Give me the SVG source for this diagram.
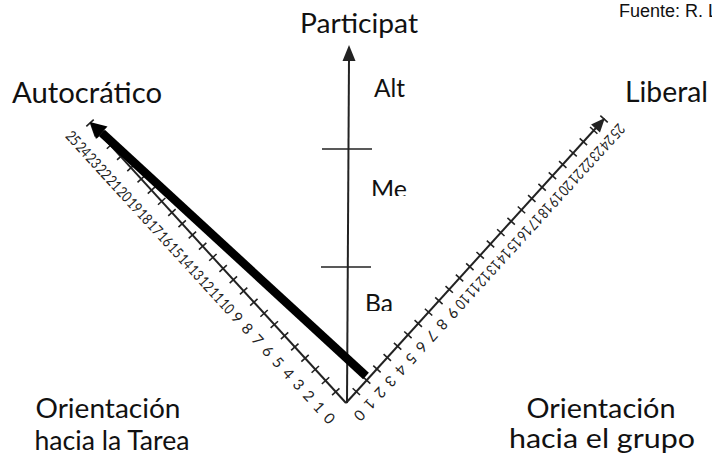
<svg xmlns="http://www.w3.org/2000/svg" width="712" height="455" viewBox="0 0 712 455">
<style>
.lbl{font-family:Lato,"Open Sans","Liberation Sans",sans-serif;fill:#111}
.num{font-family:Lato,"Open Sans","Liberation Sans",sans-serif;font-size:15px;fill:#222;text-anchor:middle;dominant-baseline:central}
.ax{stroke:#222;stroke-width:2;fill:none}
.tk{stroke:#222;stroke-width:1.6;fill:none}
.ah{fill:#222}
</style>
<defs>
<clipPath id="clipMe"><rect x="360" y="170" width="60" height="26"/></clipPath>
<clipPath id="clipBa"><rect x="355" y="285" width="60" height="26"/></clipPath>
</defs>
<rect width="712" height="455" fill="#fff"/>

<g id="source">
<text x="619" y="17" font-family="Liberation Sans, Arial, sans-serif" font-size="18" fill="#111">Fuente: R. L</text>
</g>

<g id="axis-vertical">
<line class="ax" x1="347" y1="403" x2="349" y2="58"/>
<polygon class="ah" points="349,45 355.5,61 342.5,61"/>
<line class="tk" x1="322" y1="149" x2="372" y2="149"/>
<line class="tk" x1="321" y1="267" x2="371" y2="267"/>
</g>

<g id="axis-left">
<g transform="translate(346,403) rotate(47.57)">
<line class="ax" x1="0" y1="0" x2="-372" y2="0"/>
<path class="tk" d="M-15.18,-5V5M-30.35,-5V5M-45.53,-5V5M-60.70,-5V5M-75.88,-5V5M-91.06,-5V5M-106.23,-5V5M-121.41,-5V5M-136.58,-5V5M-151.76,-5V5M-166.94,-5V5M-182.11,-5V5M-197.29,-5V5M-212.46,-5V5M-227.64,-5V5M-242.82,-5V5M-257.99,-5V5M-273.17,-5V5M-288.34,-5V5M-303.52,-5V5M-318.70,-5V5M-333.87,-5V5M-349.05,-5V5M-364.22,-5V5M-379.40,-5V5"/>
<polygon class="ah" points="-380,0 -366,-6 -366,6"/>
<text class="num" x="0" y="22">0</text>
<text class="num" x="-15.18" y="22">1</text>
<text class="num" x="-30.35" y="22">2</text>
<text class="num" x="-45.53" y="22">3</text>
<text class="num" x="-60.70" y="22">4</text>
<text class="num" x="-75.88" y="22">5</text>
<text class="num" x="-91.06" y="22">6</text>
<text class="num" x="-106.23" y="22">7</text>
<text class="num" x="-121.41" y="22">8</text>
<text class="num" x="-136.58" y="22">9</text>
<text class="num" x="-151.76" y="22" textLength="14" lengthAdjust="spacingAndGlyphs">10</text>
<text class="num" x="-166.94" y="22" textLength="14" lengthAdjust="spacingAndGlyphs">11</text>
<text class="num" x="-182.11" y="22" textLength="14" lengthAdjust="spacingAndGlyphs">12</text>
<text class="num" x="-197.29" y="22" textLength="14" lengthAdjust="spacingAndGlyphs">13</text>
<text class="num" x="-212.46" y="22" textLength="14" lengthAdjust="spacingAndGlyphs">14</text>
<text class="num" x="-227.64" y="22" textLength="14" lengthAdjust="spacingAndGlyphs">15</text>
<text class="num" x="-242.82" y="22" textLength="14" lengthAdjust="spacingAndGlyphs">16</text>
<text class="num" x="-257.99" y="22" textLength="14" lengthAdjust="spacingAndGlyphs">17</text>
<text class="num" x="-273.17" y="22" textLength="14" lengthAdjust="spacingAndGlyphs">18</text>
<text class="num" x="-288.34" y="22" textLength="14" lengthAdjust="spacingAndGlyphs">19</text>
<text class="num" x="-303.52" y="22" textLength="14" lengthAdjust="spacingAndGlyphs">20</text>
<text class="num" x="-318.70" y="22" textLength="14" lengthAdjust="spacingAndGlyphs">21</text>
<text class="num" x="-333.87" y="22" textLength="14" lengthAdjust="spacingAndGlyphs">22</text>
<text class="num" x="-349.05" y="22" textLength="14" lengthAdjust="spacingAndGlyphs">23</text>
<text class="num" x="-364.22" y="22" textLength="14" lengthAdjust="spacingAndGlyphs">24</text>
<text class="num" x="-379.40" y="22" textLength="14" lengthAdjust="spacingAndGlyphs">25</text>
</g>
</g>

<g id="axis-right">
<g transform="translate(346,403) rotate(132.26)">
<line class="ax" x1="0" y1="0" x2="-376" y2="0"/>
<path class="tk" d="M-15.35,-5V5M-30.70,-5V5M-46.04,-5V5M-61.39,-5V5M-76.74,-5V5M-92.09,-5V5M-107.44,-5V5M-122.78,-5V5M-138.13,-5V5M-153.48,-5V5M-168.83,-5V5M-184.18,-5V5M-199.52,-5V5M-214.87,-5V5M-230.22,-5V5M-245.57,-5V5M-260.92,-5V5M-276.26,-5V5M-291.61,-5V5M-306.96,-5V5M-322.31,-5V5M-337.66,-5V5M-353.00,-5V5M-368.35,-5V5M-383.70,-5V5"/>
<polygon class="ah" points="-385,0 -371,-6 -371,6"/>
<text class="num" x="0" y="-19">0</text>
<text class="num" x="-15.35" y="-19">1</text>
<text class="num" x="-30.70" y="-19">2</text>
<text class="num" x="-46.04" y="-19">3</text>
<text class="num" x="-61.39" y="-19">4</text>
<text class="num" x="-76.74" y="-19">5</text>
<text class="num" x="-92.09" y="-19">6</text>
<text class="num" x="-107.44" y="-19">7</text>
<text class="num" x="-122.78" y="-19">8</text>
<text class="num" x="-138.13" y="-19">9</text>
<text class="num" x="-153.48" y="-19" textLength="14" lengthAdjust="spacingAndGlyphs">10</text>
<text class="num" x="-168.83" y="-19" textLength="14" lengthAdjust="spacingAndGlyphs">11</text>
<text class="num" x="-184.18" y="-19" textLength="14" lengthAdjust="spacingAndGlyphs">12</text>
<text class="num" x="-199.52" y="-19" textLength="14" lengthAdjust="spacingAndGlyphs">13</text>
<text class="num" x="-214.87" y="-19" textLength="14" lengthAdjust="spacingAndGlyphs">14</text>
<text class="num" x="-230.22" y="-19" textLength="14" lengthAdjust="spacingAndGlyphs">15</text>
<text class="num" x="-245.57" y="-19" textLength="14" lengthAdjust="spacingAndGlyphs">16</text>
<text class="num" x="-260.92" y="-19" textLength="14" lengthAdjust="spacingAndGlyphs">17</text>
<text class="num" x="-276.26" y="-19" textLength="14" lengthAdjust="spacingAndGlyphs">18</text>
<text class="num" x="-291.61" y="-19" textLength="14" lengthAdjust="spacingAndGlyphs">19</text>
<text class="num" x="-306.96" y="-19" textLength="14" lengthAdjust="spacingAndGlyphs">20</text>
<text class="num" x="-322.31" y="-19" textLength="14" lengthAdjust="spacingAndGlyphs">21</text>
<text class="num" x="-337.66" y="-19" textLength="14" lengthAdjust="spacingAndGlyphs">22</text>
<text class="num" x="-353.00" y="-19" textLength="14" lengthAdjust="spacingAndGlyphs">23</text>
<text class="num" x="-368.35" y="-19" textLength="14" lengthAdjust="spacingAndGlyphs">24</text>
<text class="num" x="-383.70" y="-19" textLength="14" lengthAdjust="spacingAndGlyphs">25</text>
</g>
</g>

<g id="connectors">
<line x1="366" y1="376" x2="102" y2="133" stroke="#000" stroke-width="8.5"/>
<polygon fill="#000" points="90,122 107.5,126.5 96,139"/>
</g>

<g id="label-participat"><text class="lbl" x="300" y="33" font-size="27" textLength="118" lengthAdjust="spacingAndGlyphs">Participat</text></g>
<g id="label-autocratico"><text class="lbl" x="12" y="103" font-size="28" textLength="150" lengthAdjust="spacingAndGlyphs">Autocrático</text></g>
<g id="label-liberal"><text class="lbl" x="625" y="102" font-size="28" textLength="83" lengthAdjust="spacingAndGlyphs">Liberal</text></g>
<g id="label-alt"><text class="lbl" x="374" y="97" font-size="25" textLength="31" lengthAdjust="spacingAndGlyphs">Alt</text></g>
<g id="label-me" clip-path="url(#clipMe)"><text class="lbl" x="371" y="198" font-size="25" textLength="36" lengthAdjust="spacingAndGlyphs">Me</text></g>
<g id="label-ba" clip-path="url(#clipBa)"><text class="lbl" x="365" y="312" font-size="25" textLength="28" lengthAdjust="spacingAndGlyphs">Ba</text></g>
<g id="label-tarea">
<text class="lbl" x="108" y="418" font-size="26" text-anchor="middle" textLength="145" lengthAdjust="spacingAndGlyphs">Orientación</text>
<text class="lbl" x="112" y="450" font-size="26" text-anchor="middle" textLength="155" lengthAdjust="spacingAndGlyphs">hacia la Tarea</text>
</g>
<g id="label-grupo">
<text class="lbl" x="601" y="418" font-size="26" text-anchor="middle" textLength="149" lengthAdjust="spacingAndGlyphs">Orientación</text>
<text class="lbl" x="602" y="448" font-size="26" text-anchor="middle" textLength="186" lengthAdjust="spacingAndGlyphs">hacia el grupo</text>
</g>
</svg>
